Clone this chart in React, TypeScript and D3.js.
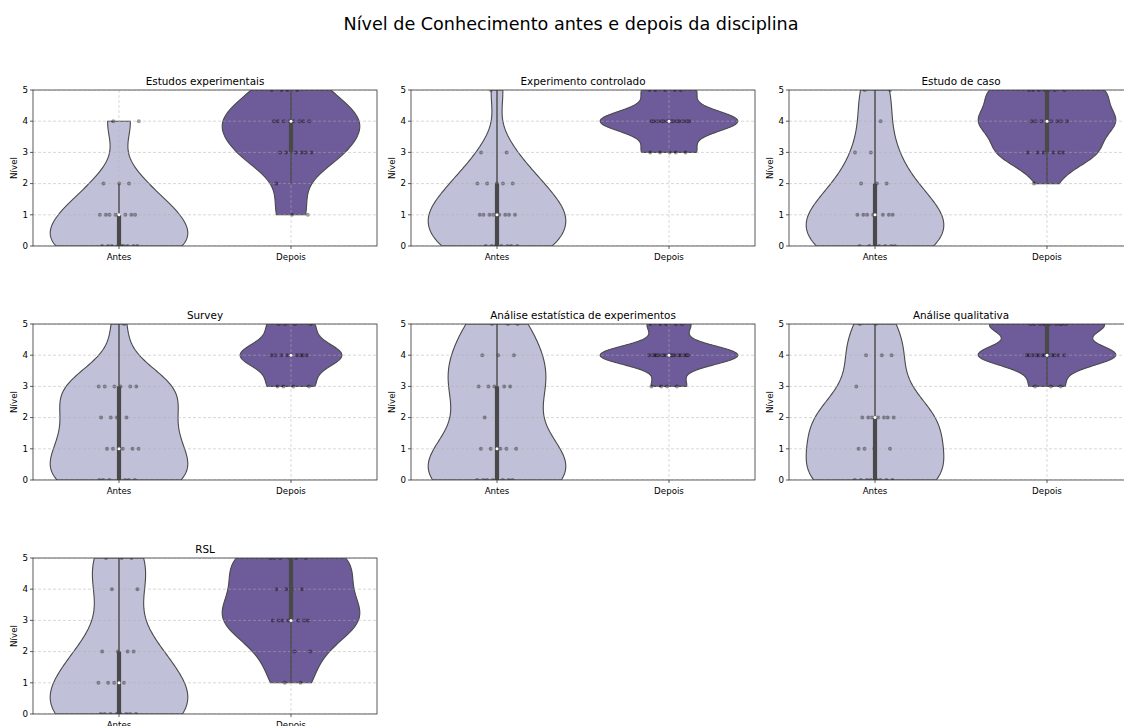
import React from "react";
import * as d3 from "d3";

const suptitle = "Nível de Conhecimento antes e depois da disciplina";
const titles = [
  "Estudos experimentais",
  "Experimento controlado",
  "Estudo de caso",
  "Survey",
  "Análise estatística de experimentos",
  "Análise qualitativa",
  "RSL",
];
const groups = ["Antes", "Depois"];
const levels = [0, 1, 2, 3, 4, 5];
// number of answers at each level 0..5
const antesCounts = [
  [9, 7, 3, 0, 2, 0],
  [7, 8, 5, 2, 0, 1],
  [7, 7, 3, 2, 1, 2],
  [7, 5, 4, 6, 0, 1],
  [8, 5, 1, 5, 3, 3],
  [8, 4, 7, 1, 3, 2],
  [8, 4, 4, 0, 2, 3],
];
const depoisCounts = [
  [0, 2, 1, 6, 8, 4],
  [0, 0, 0, 5, 13, 5],
  [0, 0, 1, 6, 8, 7],
  [0, 0, 0, 4, 9, 4],
  [0, 0, 0, 4, 16, 5],
  [0, 0, 0, 3, 12, 10],
  [0, 2, 2, 7, 4, 6],
];
const yTicks = [0, 1, 2, 3, 4, 5];

const COLORS = ["#c0c1d8", "#6e5b99"];
const GRAY = "#494949";
const FONT = "DejaVu Sans, sans-serif";

const W = 344;
const H = 156;
const lefts = [33, 411, 789];
const tops = [90, 324, 558];

function expand(counts: number[]): number[] {
  const out: number[] = [];
  counts.forEach((c, i) => {
    for (let k = 0; k < c; k++) out.push(levels[i]);
  });
  return out;
}

function kde(values: number[], gridsize = 100): [number, number][] {
  const n = values.length;
  const sd = d3.deviation(values) || 1;
  const h = sd * Math.pow(n, -1 / 5);
  const lo = d3.min(values)!;
  const hi = d3.max(values)!;
  const norm = 1 / (n * h * Math.sqrt(2 * Math.PI));
  return d3.range(gridsize).map((i) => {
    const y = lo + ((hi - lo) * i) / (gridsize - 1);
    const dens = d3.sum(values, (v) => Math.exp(-0.5 * ((y - v) / h) ** 2)) * norm;
    return [y, dens] as [number, number];
  });
}

function frac(v: number) {
  return v - Math.floor(v);
}

function Panel({ idx }: { idx: number }) {
  const col = idx % 3;
  const row = Math.floor(idx / 3);
  const left = lefts[col];
  const top = tops[row];
  const x = d3.scalePoint<string>().domain(groups).range([0, W]).padding(0.5);
  const step = x.step();
  const y = d3.scaleLinear().domain([0, 5]).range([H, 0]);
  const datasets = [expand(antesCounts[idx]), expand(depoisCounts[idx])];
  const maxCount = d3.max(datasets, (d) => d.length)!;
  const clipId = `clip-${idx}`;

  const violins = datasets.map((vals, j) => {
    const dens = kde(vals);
    const maxD = d3.max(dens, (d) => d[1])!;
    const scale = ((vals.length / maxCount) * 0.4 * step) / maxD;
    const cx = x(groups[j])!;
    const area = d3
      .area<[number, number]>()
      .x0((d) => cx - d[1] * scale)
      .x1((d) => cx + d[1] * scale)
      .y((d) => y(d[0]));
    const sorted = [...vals].sort((a, b) => a - b);
    const q1 = d3.quantile(sorted, 0.25)!;
    const q2 = d3.quantile(sorted, 0.5)!;
    const q3 = d3.quantile(sorted, 0.75)!;
    const iqr = q3 - q1;
    const lo = d3.min(sorted.filter((v) => v >= q1 - 1.5 * iqr))!;
    const hi = d3.max(sorted.filter((v) => v <= q3 + 1.5 * iqr))!;
    return { path: area(dens)!, cx, q1, q2, q3, lo, hi, vals: sorted, j };
  });

  return (
    <g transform={`translate(${left},${top})`}>
      <defs>
        <clipPath id={clipId}>
          <rect x={0} y={0} width={W} height={H} />
        </clipPath>
      </defs>
      <g clipPath={`url(#${clipId})`}>
        {violins.map((v) => (
          <path key={"v" + v.j} d={v.path} fill={COLORS[v.j]} stroke={GRAY} strokeWidth={1.1} />
        ))}
        {violins.map((v) =>
          v.vals.map((val, i) => {
            const u = frac((i + 1) * 0.6180339887 + idx * 0.137 + v.j * 0.29);
            const off = (u * 2 - 1) * 0.12 * step;
            return (
              <circle
                key={`p${v.j}-${i}`}
                cx={v.cx + off}
                cy={y(val)}
                r={2}
                fill="#000"
                fillOpacity={0.38}
              />
            );
          })
        )}
        {yTicks.map((t) => (
          <line
            key={"gy" + t}
            x1={0}
            x2={W}
            y1={y(t)}
            y2={y(t)}
            stroke="#b0b0b0"
            strokeOpacity={0.7}
            strokeWidth={0.7}
            strokeDasharray="3,2"
          />
        ))}
        {groups.map((g) => (
          <line
            key={"gx" + g}
            x1={x(g)}
            x2={x(g)}
            y1={0}
            y2={H}
            stroke="#b0b0b0"
            strokeOpacity={0.7}
            strokeWidth={0.7}
            strokeDasharray="3,2"
          />
        ))}
        {violins.map((v) => (
          <g key={"b" + v.j}>
            {v.hi > v.lo && (
              <line x1={v.cx} x2={v.cx} y1={y(v.lo)} y2={y(v.hi)} stroke={GRAY} strokeWidth={1.4} />
            )}
            {v.q3 > v.q1 && (
              <line x1={v.cx} x2={v.cx} y1={y(v.q1)} y2={y(v.q3)} stroke={GRAY} strokeWidth={4.2} />
            )}
            <circle cx={v.cx} cy={y(v.q2)} r={1.5} fill="#fff" />
          </g>
        ))}
      </g>
      <rect x={0} y={0} width={W} height={H} fill="none" stroke="#333" strokeWidth={0.8} />
      {yTicks.map((t) => (
        <g key={"yt" + t} transform={`translate(0,${y(t)})`}>
          <line x1={-3} x2={0} stroke="#333" strokeWidth={0.8} />
          <text x={-5} dy="0.32em" textAnchor="end" fontSize={8.7} fontFamily={FONT} fill="#000">
            {t}
          </text>
        </g>
      ))}
      {groups.map((g) => (
        <g key={"xt" + g} transform={`translate(${x(g)},${H})`}>
          <line y1={0} y2={3} stroke="#333" strokeWidth={0.8} />
          <text y={14} textAnchor="middle" fontSize={8.7} fontFamily={FONT} fill="#000">
            {g}
          </text>
        </g>
      ))}
      <text
        transform={`translate(${-16},${H / 2}) rotate(-90)`}
        textAnchor="middle"
        fontSize={8.7}
        fontFamily={FONT}
        fill="#000"
      >
        Nível
      </text>
      <text x={W / 2} y={-5} textAnchor="middle" fontSize={10.4} fontFamily={FONT} fill="#000">
        {titles[idx]}
      </text>
    </g>
  );
}

export default function App() {
  return (
    <div style={{ position: "absolute", left: 0, top: 0 }}>
      <svg width={1124} height={726} style={{ display: "block", background: "#fff" }}>
        <rect width={1124} height={726} fill="#fff" />
        <text x={571} y={30} textAnchor="middle" fontSize={17.6} fontFamily={FONT} fill="#000">
          {suptitle}
        </text>
        {titles.map((_, i) => (
          <Panel key={i} idx={i} />
        ))}
      </svg>
    </div>
  );
}
